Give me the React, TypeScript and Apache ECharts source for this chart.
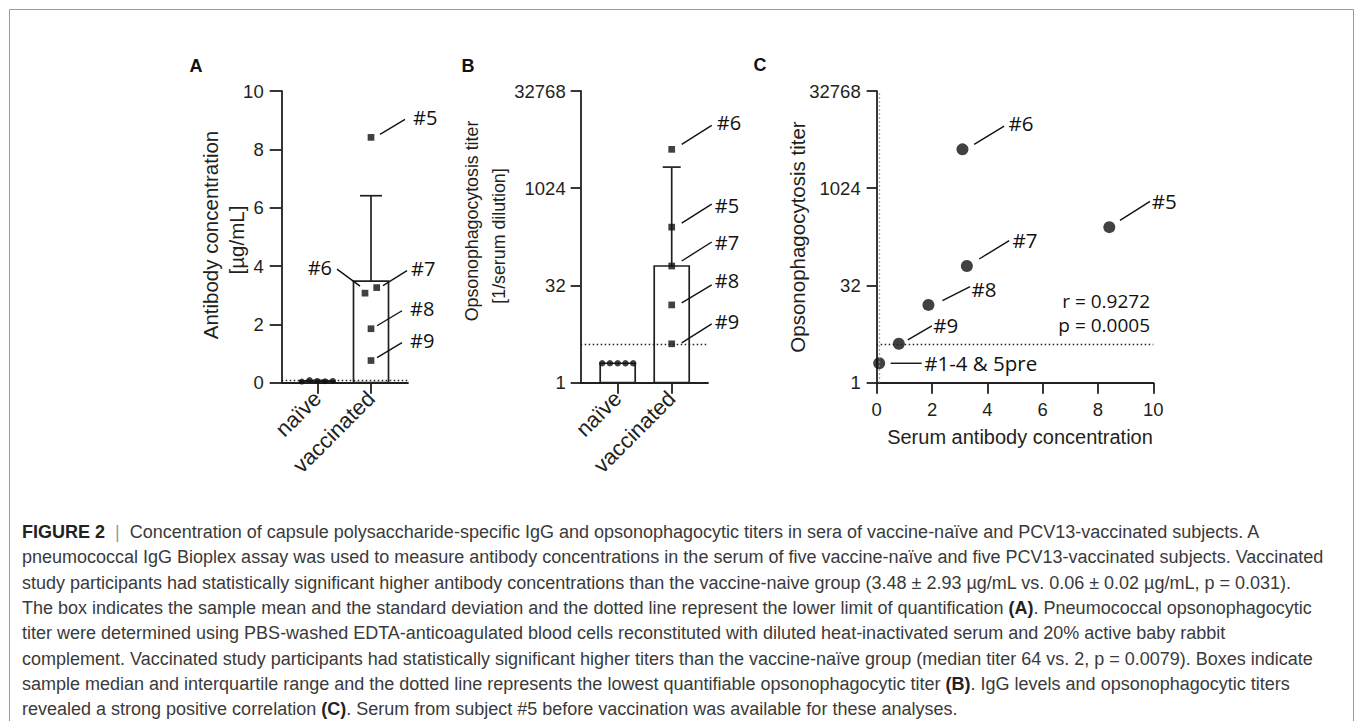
import React, { useEffect, useRef } from 'react';
import * as echarts from 'echarts';

// ---------- data ----------
const groups = ['naïve', 'vaccinated'];
const naiveAntibody = [0.04, 0.09, 0.06, 0.05, 0.06];
const vaccinatedIds = ['#5', '#6', '#7', '#8', '#9'];
const vaccinatedAntibody = [8.41, 3.07, 3.26, 1.85, 0.76];
const antibodyMean = [0.06, 3.48];
const antibodySD = [0.02, 2.93];
const antibodyLLOQ = 0.1;
const antibodyTicks = [0, 2, 4, 6, 8, 10];

const naiveTiter = [2, 2, 2, 2, 2];
const vaccinatedTiter = [256, 4096, 64, 16, 4];
const titerMedian = [2, 64];
const titerQ3 = [2, 2176];
const titerLLOQ = 4;
const titerTicks = [1, 32, 1024, 32768];

const correlationIds = ['#1-4 & 5pre', '#9', '#8', '#7', '#5', '#6'];
const correlationAntibody = [0.09, 0.8, 1.87, 3.26, 8.41, 3.1];
const correlationTiter = [2, 4, 16, 64, 256, 4096];
const correlationText = ['r = 0.9272', 'p = 0.0005'];

const captionLines = [
  '{b|FIGURE 2}{p|  |  }Concentration of capsule polysaccharide-specific IgG and opsonophagocytic titers in sera of vaccine-naïve and PCV13-vaccinated subjects. A',
  'pneumococcal IgG Bioplex assay was used to measure antibody concentrations in the serum of five vaccine-naïve and five PCV13-vaccinated subjects. Vaccinated',
  'study participants had statistically significant higher antibody concentrations than the vaccine-naive group (3.48 ± 2.93 µg/mL vs. 0.06 ± 0.02 µg/mL, p = 0.031).',
  'The box indicates the sample mean and the standard deviation and the dotted line represent the lower limit of quantification {b|(A)}. Pneumococcal opsonophagocytic',
  'titer were determined using PBS-washed EDTA-anticoagulated blood cells reconstituted with diluted heat-inactivated serum and 20% active baby rabbit',
  'complement. Vaccinated study participants had statistically significant higher titers than the vaccine-naïve group (median titer 64 vs. 2, p = 0.0079). Boxes indicate',
  'sample median and interquartile range and the dotted line represents the lowest quantifiable opsonophagocytic titer {b|(B)}. IgG levels and opsonophagocytic titers',
  'revealed a strong positive correlation {b|(C)}. Serum from subject #5 before vaccination was available for these analyses.',
];

// ---------- styles / layout ----------
const INK = '#231f20';
const AX_FONT = 'Liberation Sans, Arial, sans-serif';
const ANN_FONT = 'Open Sans, Noto Sans, sans-serif';
const CAP_SIZE = 18;
const naiveJitter = [-15.5, -7.75, 0, 7.75, 15.5];
const vaccJitterA = [0, -6, 5.7, 0, 0];

type Lay = { from: number[]; to: number[]; text: number[]; align?: string };
const layoutA: Lay[] = [
  { from: [9, -3], to: [34, -18], text: [42, -20] },
  { from: [-11, -7], to: [-34, -24], text: [-39, -26], align: 'right' },
  { from: [12, -2], to: [36, -17], text: [40, -19] },
  { from: [6, -3], to: [31, -18], text: [39, -20] },
  { from: [6, -3], to: [31, -18], text: [39, -20] },
];
const layoutB: Lay[] = [
  { from: [10, -4], to: [40, -23], text: [43, -22] },
  { from: [10, -5], to: [40, -24], text: [45, -27] },
  { from: [10, -5], to: [40, -24], text: [43, -24] },
  { from: [10, -2], to: [40, -20], text: [43, -24] },
  { from: [10, -1], to: [40, -20], text: [43, -22] },
];
const layoutC: Lay[] = [
  { from: [11.5, 0], to: [42.5, 0], text: [45, 0] },
  { from: [9, -4], to: [33, -18], text: [34.5, -19] },
  { from: [14, -4.3], to: [41.7, -18.3], text: [43, -16] },
  { from: [12.3, -7], to: [42.3, -25.3], text: [45.7, -26.3] },
  { from: [10.7, -6.7], to: [40.7, -25.7], text: [42.4, -25.7] },
  { from: [11.7, -5], to: [41.7, -23.3], text: [46, -26.6] },
];

const lg = (v: number) => Math.log2(v);

function axisCommon(tickLen: number) {
  return {
    axisLine: { show: true, onZero: false, lineStyle: { color: INK, width: 1.8 } },
    axisTick: { show: true, length: tickLen, lineStyle: { color: INK, width: 1.8 } },
    splitLine: { show: false },
  };
}

function boxSeries(idx: number, data: number[][]) {
  return {
    type: 'custom', xAxisIndex: idx, yAxisIndex: idx, z: 2, silent: true, clip: false,
    data,
    renderItem: (params: any, api: any) => {
      const x = api.value(0);
      const a = api.coord([x, api.value(1)]);
      const b = api.coord([x, api.value(2)]);
      const w = 35;
      return {
        type: 'rect',
        shape: { x: a[0] - w / 2, y: b[1], width: w, height: a[1] - b[1] },
        style: { fill: '#fff', stroke: INK, lineWidth: 1.7 },
      };
    },
  };
}

function whiskerSeries(idx: number, data: number[][], cap: number) {
  return {
    type: 'custom', xAxisIndex: idx, yAxisIndex: idx, z: 3, silent: true, clip: false,
    data,
    renderItem: (params: any, api: any) => {
      const x = api.value(0);
      const a = api.coord([x, api.value(1)]);
      const b = api.coord([x, api.value(2)]);
      const st = { stroke: INK, lineWidth: 1.7 };
      return {
        type: 'group',
        children: [
          { type: 'line', shape: { x1: a[0], y1: a[1], x2: b[0], y2: b[1] }, style: st },
          { type: 'line', shape: { x1: b[0] - cap / 2, y1: b[1], x2: b[0] + cap / 2, y2: b[1] }, style: st },
        ],
      };
    },
  };
}

function annotationSeries(idx: number, pts: number[][], ids: string[], lay: Lay[], fontSize: number) {
  return {
    type: 'custom', xAxisIndex: idx, yAxisIndex: idx, z: 6, silent: true, clip: false,
    data: pts,
    renderItem: (params: any, api: any) => {
      const p = api.coord([api.value(0), api.value(1)]);
      const L = lay[params.dataIndex];
      return {
        type: 'group',
        children: [
          {
            type: 'line',
            shape: { x1: p[0] + L.from[0], y1: p[1] + L.from[1], x2: p[0] + L.to[0], y2: p[1] + L.to[1] },
            style: { stroke: '#111', lineWidth: 1.4 },
          },
          {
            type: 'text',
            x: p[0] + L.text[0],
            y: p[1] + L.text[1],
            style: {
              text: ids[params.dataIndex], align: L.align || 'left', verticalAlign: 'middle',
              fontFamily: ANN_FONT, fontSize, fill: '#111',
            },
          },
        ],
      };
    },
  };
}

function dotted(color: string) {
  return { color, width: 1.3, type: [1.5, 2.5] as any };
}

function buildOption(): any {
  const tickLabel = { color: INK, fontFamily: AX_FONT, fontSize: 18.5 };
  const catLabel = {
    ...tickLabel, fontSize: 22, rotate: 45, margin: 12,
    customValues: [0, 1], formatter: (v: number) => groups[Math.round(v)],
  };

  const graphics: any[] = [
    { type: 'rect', shape: { x: 9.5, y: 9.5, width: 1344, height: 800 }, style: { fill: 'none', stroke: '#9a9a9a', lineWidth: 1 }, silent: true },
    { type: 'text', x: 196, y: 66, style: { text: 'A', align: 'center', verticalAlign: 'middle', fontFamily: AX_FONT, fontWeight: 'bold', fontSize: 18, fill: '#111' } },
    { type: 'text', x: 468, y: 66, style: { text: 'B', align: 'center', verticalAlign: 'middle', fontFamily: AX_FONT, fontWeight: 'bold', fontSize: 18, fill: '#111' } },
    { type: 'text', x: 760, y: 65, style: { text: 'C', align: 'center', verticalAlign: 'middle', fontFamily: AX_FONT, fontWeight: 'bold', fontSize: 18, fill: '#111' } },
    { type: 'text', x: 210, y: 235, rotation: Math.PI / 2, style: { text: 'Antibody concentration', align: 'center', verticalAlign: 'middle', fontFamily: AX_FONT, fontSize: 20.5, fill: INK } },
    { type: 'text', x: 236, y: 240, rotation: Math.PI / 2, style: { text: '[µg/mL]', align: 'center', verticalAlign: 'middle', fontFamily: AX_FONT, fontSize: 20.5, fill: INK } },
    { type: 'text', x: 472, y: 221, rotation: Math.PI / 2, style: { text: 'Opsonophagocytosis titer', align: 'center', verticalAlign: 'middle', fontFamily: AX_FONT, fontSize: 17.8, fill: INK } },
    { type: 'text', x: 499, y: 236, rotation: Math.PI / 2, style: { text: '[1/serum dilution]', align: 'center', verticalAlign: 'middle', fontFamily: AX_FONT, fontSize: 17.8, fill: INK } },
    { type: 'text', x: 797, y: 237, rotation: Math.PI / 2, style: { text: 'Opsonophagocytosis titer', align: 'center', verticalAlign: 'middle', fontFamily: AX_FONT, fontSize: 20.5, fill: INK } },
    { type: 'text', x: 1020, y: 437, style: { text: 'Serum antibody concentration', align: 'center', verticalAlign: 'middle', fontFamily: AX_FONT, fontSize: 20, fill: INK } },
    { type: 'text', x: 1150, y: 300.5, style: { text: correlationText[0], align: 'right', verticalAlign: 'middle', fontFamily: ANN_FONT, fontSize: 19, fill: '#111' } },
    { type: 'text', x: 1150, y: 324.5, style: { text: correlationText[1], align: 'right', verticalAlign: 'middle', fontFamily: ANN_FONT, fontSize: 19, fill: '#111' } },
  ];
  captionLines.forEach((t, i) => {
    graphics.push({
      type: 'text', x: 22, y: 532 + 25.3 * i, silent: true,
      style: {
        text: t, align: 'left', verticalAlign: 'middle',
        fontFamily: AX_FONT, fontSize: CAP_SIZE, fill: '#3a3a3a',
        rich: {
          b: { fontFamily: AX_FONT, fontSize: CAP_SIZE, fontWeight: 'bold', fill: '#222' },
          p: { fontFamily: AX_FONT, fontSize: CAP_SIZE, fill: '#9a9a9a' },
        },
      },
    });
  });

  return {
    animation: false,
    backgroundColor: '#fff',
    grid: [
      { left: 281.7, top: 91, width: 126.3, height: 291.7 },
      { left: 580.7, top: 91, width: 127.3, height: 291.7 },
      { left: 876.7, top: 91, width: 276.6, height: 291.7 },
    ],
    xAxis: [
      {
        type: 'value', gridIndex: 0, min: -0.663, max: 1.689, ...axisCommon(11),
        axisTick: { show: true, length: 11, customValues: [0, 1], lineStyle: { color: INK, width: 1.8 } },
        axisLabel: catLabel,
      },
      {
        type: 'value', gridIndex: 1, min: -0.685, max: 1.672, ...axisCommon(11),
        axisTick: { show: true, length: 11, customValues: [0, 1], lineStyle: { color: INK, width: 1.8 } },
        axisLabel: catLabel,
      },
      {
        type: 'value', gridIndex: 2, min: 0, max: 10, interval: 2, ...axisCommon(11),
        axisLabel: { ...tickLabel, margin: 17 },
      },
    ],
    yAxis: [
      {
        type: 'value', gridIndex: 0, min: antibodyTicks[0], max: antibodyTicks[antibodyTicks.length - 1], interval: 2, ...axisCommon(12),
        axisLabel: { ...tickLabel, margin: 18 },
      },
      {
        type: 'value', gridIndex: 1, min: lg(titerTicks[0]), max: lg(titerTicks[3]), interval: 5, ...axisCommon(10),
        axisLabel: { ...tickLabel, margin: 15, formatter: (v: number) => String(Math.round(Math.pow(2, v))) },
      },
      {
        type: 'value', gridIndex: 2, min: lg(titerTicks[0]), max: lg(titerTicks[3]), interval: 5, ...axisCommon(10),
        axisLabel: { ...tickLabel, margin: 16, formatter: (v: number) => String(Math.round(Math.pow(2, v))) },
      },
    ],
    graphic: { elements: graphics },
    series: [
      // ---- Panel A ----
      boxSeries(0, groups.map((g, i) => [i, 0, antibodyMean[i]])),
      whiskerSeries(0, groups.map((g, i) => [i, antibodyMean[i], antibodyMean[i] + antibodySD[i]]), 22),
      {
        type: 'scatter', xAxisIndex: 0, yAxisIndex: 0, z: 4, silent: true,
        symbol: 'circle', symbolSize: 6, itemStyle: { color: '#111' },
        data: naiveAntibody.map((v, k) => ({ value: [0, v], symbolOffset: [naiveJitter[k], 0] })),
        markLine: { silent: true, symbol: 'none', label: { show: false }, lineStyle: dotted('#222'), data: [{ yAxis: antibodyLLOQ }] },
      },
      {
        type: 'scatter', xAxisIndex: 0, yAxisIndex: 0, z: 4, silent: true,
        symbol: 'rect', symbolSize: 6.7, itemStyle: { color: '#111' },
        data: vaccinatedAntibody.map((v, k) => ({ value: [1, v], symbolOffset: [vaccJitterA[k], 0] })),
      },
      annotationSeries(0, vaccinatedAntibody.map((v) => [1, v]), vaccinatedIds, layoutA, 20),

      // ---- Panel B ----
      boxSeries(1, groups.map((g, i) => [i, lg(titerTicks[0]), lg(titerMedian[i])])),
      whiskerSeries(1, [[1, lg(titerMedian[1]), lg(titerQ3[1])]], 18),
      {
        type: 'scatter', xAxisIndex: 1, yAxisIndex: 1, z: 4, silent: true,
        symbol: 'circle', symbolSize: 6.5, itemStyle: { color: '#111' },
        data: naiveTiter.map((v, k) => ({ value: [0, lg(v)], symbolOffset: [naiveJitter[k], 0] })),
        markLine: { silent: true, symbol: 'none', label: { show: false }, lineStyle: dotted('#222'), data: [{ yAxis: lg(titerLLOQ) }] },
      },
      {
        type: 'scatter', xAxisIndex: 1, yAxisIndex: 1, z: 4, silent: true,
        symbol: 'rect', symbolSize: 6.7, itemStyle: { color: '#111' },
        data: vaccinatedTiter.map((v) => [1, lg(v)]),
      },
      annotationSeries(1, vaccinatedTiter.map((v) => [1, lg(v)]), vaccinatedIds, layoutB, 20),

      // ---- Panel C ----
      {
        type: 'scatter', xAxisIndex: 2, yAxisIndex: 2, z: 4, silent: true,
        symbol: 'circle', symbolSize: 12, itemStyle: { color: '#111' },
        data: correlationAntibody.map((v, k) => [v, lg(correlationTiter[k])]),
        markLine: {
          silent: true, symbol: 'none', label: { show: false }, lineStyle: dotted('#222'),
          data: [{ yAxis: lg(titerLLOQ) }, { xAxis: antibodyLLOQ, lineStyle: dotted('#8a8a8a') }],
        },
      },
      annotationSeries(2, correlationAntibody.map((v, k) => [v, lg(correlationTiter[k])]), correlationIds, layoutC, 20.5),
    ],
  };
}

export default function App() {
  const ref = useRef<HTMLDivElement>(null);
  useEffect(() => {
    if (!ref.current) return;
    const chart = echarts.init(ref.current, null, { renderer: 'svg' });
    chart.setOption(buildOption());
    return () => chart.dispose();
  }, []);
  return (
    <div
      ref={ref}
      style={{ position: 'absolute', left: 0, top: 0, width: 1355, height: 721, background: '#fff', overflow: 'hidden' }}
    />
  );
}
